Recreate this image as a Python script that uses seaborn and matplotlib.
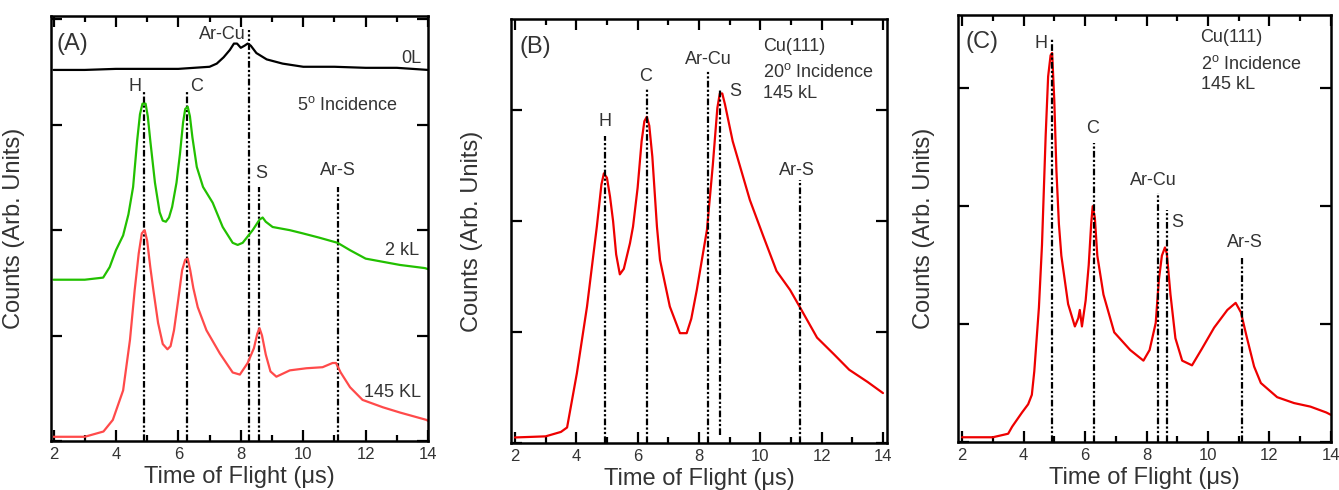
import numpy as np
import pandas as pd
import matplotlib
matplotlib.use("Agg")
import matplotlib.pyplot as plt
import seaborn as sns
from matplotlib.ticker import MultipleLocator

# ---------------- data ----------------
# Panel A : 0L (black), 2 kL (green), 145 kL (light red)
a0_x = [2.0, 3.0, 4.0, 5.0, 6.0, 6.5, 7.0, 7.23, 7.45, 7.65, 7.78, 7.88, 8.0, 8.12, 8.22, 8.32, 8.5, 8.83, 9.34, 10.0, 11.0, 12.0, 13.0, 14.0]
a0_y = [3.52, 3.52, 3.53, 3.53, 3.53, 3.54, 3.55, 3.58, 3.64, 3.71, 3.77, 3.77, 3.73, 3.75, 3.77, 3.75, 3.68, 3.62, 3.58, 3.55, 3.55, 3.54, 3.54, 3.52]

a2_x = [2.0, 3.0, 3.59, 3.8, 4.0, 4.23, 4.4, 4.55, 4.68, 4.77, 4.85, 4.95, 5.02, 5.1, 5.25, 5.4, 5.5, 5.6, 5.7, 5.8, 5.94, 6.05, 6.15, 6.22, 6.3, 6.37,
        6.45, 6.59, 6.79, 7.1, 7.42, 7.74, 7.9, 8.06, 8.38, 8.6, 8.7, 8.8, 9.02, 9.57, 9.98, 10.5, 11.1, 11.5, 12.0, 12.55, 13.1, 13.9, 14.0]
a2_y = [1.53, 1.53, 1.55, 1.65, 1.81, 1.95, 2.15, 2.41, 2.85, 3.1, 3.2, 3.2, 3.08, 2.85, 2.45, 2.17, 2.09, 2.08, 2.12, 2.22, 2.45, 2.72, 3.02, 3.15, 3.17, 3.08,
        2.88, 2.6, 2.41, 2.26, 2.03, 1.88, 1.86, 1.88, 2.0, 2.1, 2.12, 2.08, 2.03, 2.0, 1.97, 1.93, 1.88, 1.81, 1.73, 1.7, 1.67, 1.64, 1.63]

a145_x = [2.0, 3.0, 3.6, 3.9, 4.23, 4.45, 4.6, 4.73, 4.83, 4.92, 5.0, 5.1, 5.2, 5.35, 5.5, 5.65, 5.75, 5.86, 6.0, 6.12, 6.22, 6.3, 6.38, 6.48, 6.62,
          6.9, 7.33, 7.74, 7.97, 8.22, 8.42, 8.53, 8.6, 8.68, 8.8, 8.95, 9.14, 9.57, 10.1, 10.62, 10.94, 11.05, 11.2, 11.5, 11.9, 12.55, 13.1, 13.95, 14.0]
a145_y = [0.04, 0.04, 0.09, 0.2, 0.48, 0.96, 1.43, 1.78, 1.97, 2.0, 1.9, 1.65, 1.43, 1.12, 0.92, 0.87, 0.9, 1.05, 1.35, 1.62, 1.72, 1.73, 1.62, 1.45, 1.27,
          1.05, 0.83, 0.65, 0.63, 0.74, 0.88, 1.02, 1.07, 1.0, 0.82, 0.66, 0.61, 0.67, 0.69, 0.7, 0.74, 0.74, 0.65, 0.51, 0.39, 0.32, 0.27, 0.2, 0.19]

# Panel B : 20 deg incidence, 145 kL
b_x = [2.0, 3.0, 3.5, 3.7, 4.02, 4.35, 4.67, 4.82, 4.9, 5.0, 5.1, 5.2, 5.3, 5.42, 5.55, 5.75, 5.85, 6.0, 6.13, 6.22, 6.3, 6.38, 6.48, 6.63,
       6.73, 7.05, 7.38, 7.6, 7.75, 7.93, 8.26, 8.45, 8.6, 8.68, 8.76, 8.85, 9.1, 9.66, 10.09, 10.53, 10.97, 11.3, 11.85, 12.4, 12.9, 13.5, 14.0]
b_y = [0.05, 0.06, 0.1, 0.14, 0.63, 1.23, 1.95, 2.33, 2.43, 2.39, 2.22, 2.0, 1.7, 1.52, 1.57, 1.8, 1.95, 2.3, 2.72, 2.9, 2.94, 2.86, 2.58, 1.95,
       1.65, 1.23, 0.99, 0.99, 1.12, 1.38, 1.92, 2.5, 3.02, 3.15, 3.15, 3.05, 2.72, 2.19, 1.87, 1.55, 1.38, 1.22, 0.95, 0.8, 0.66, 0.55, 0.45]

# Panel C : 2 deg incidence, 145 kL
c_x = [2.0, 3.0, 3.5, 3.63, 3.95, 4.15, 4.27, 4.35, 4.5, 4.6, 4.72, 4.8, 4.88, 4.93, 5.0, 5.07, 5.15, 5.23, 5.45, 5.67, 5.78, 5.83, 5.9, 6.02, 6.12,
       6.2, 6.25, 6.32, 6.4, 6.6, 6.95, 7.47, 7.9, 8.1, 8.3, 8.4, 8.5, 8.6, 8.66, 8.78, 8.94, 9.16, 9.48, 9.8, 10.2, 10.63, 10.9,
       11.07, 11.27, 11.5, 11.72, 12.25, 12.8, 13.33, 13.85, 14.0]
c_y = [0.04, 0.04, 0.07, 0.13, 0.25, 0.32, 0.4, 0.6, 1.14, 1.67, 2.6, 3.1, 3.28, 3.3, 2.9, 2.3, 1.85, 1.58, 1.17, 0.98, 1.05, 1.12, 0.98, 1.2, 1.5,
       1.85, 2.0, 1.9, 1.58, 1.25, 0.93, 0.78, 0.69, 0.78, 1.01, 1.37, 1.58, 1.65, 1.6, 1.25, 0.88, 0.69, 0.65, 0.79, 0.97, 1.12, 1.18,
       1.1, 0.88, 0.64, 0.5, 0.38, 0.33, 0.3, 0.25, 0.23]

# marker lines: position, top, bottom (data units)
a_lines_x = [4.9, 6.27, 8.27, 8.58, 11.1]
a_lines_top = [3.32, 3.32, 3.9, 2.41, 2.41]
a_lines_bot = [0, 0, 0, 0, 0]
b_lines_x = [4.93, 6.3, 8.3, 8.7, 11.3]
b_lines_top = [2.77, 3.2, 3.35, 3.18, 2.37]
b_lines_bot = [0, 0, 0, 0.07, 0]
c_lines_x = [4.93, 6.28, 8.36, 8.68, 11.1]
c_lines_top = [3.43, 2.54, 2.11, 1.97, 1.56]
c_lines_bot = [0, 0, 0, 0, 0]

# peak labels (text, x, y)
a_labels = [("Ar-Cu", 7.42, 3.86), ("H", 4.61, 3.36), ("C", 6.59, 3.36), ("S", 8.64, 2.54), ("Ar-S", 11.1, 2.57),
            ("0L", 13.47, 3.63), ("2 kL", 13.18, 1.81), ("145 KL", 12.86, 0.46), ("5$^\\mathrm{o}$ Incidence", 11.42, 3.19)]
b_labels = [("H", 4.93, 2.9), ("C", 6.27, 3.3), ("Ar-Cu", 8.29, 3.46), ("S", 9.17, 3.17), ("Ar-S", 11.19, 2.46)]
c_labels = [("H", 4.56, 3.38), ("C", 6.25, 2.66), ("Ar-Cu", 8.23, 2.22), ("S", 9.0, 1.86), ("Ar-S", 11.2, 1.69)]
b_info = ["Cu(111)", "20$^\\mathrm{o}$ Incidence", "145 kL"]
b_info_y = [3.57, 3.34, 3.15]
c_info = ["Cu(111)", "2$^\\mathrm{o}$ Incidence", "145 kL"]
c_info_y = [3.43, 3.21, 3.03]

# ---------------- style ----------------
sns.set_theme(style="ticks")
plt.rcParams["font.family"] = ["Liberation Sans", "DejaVu Sans"]
plt.rcParams["mathtext.fontset"] = "custom"
plt.rcParams["mathtext.rm"] = "Liberation Sans"
plt.rcParams["mathtext.it"] = "Liberation Sans:italic"

TXT = "#333333"
GREEN = "#22c000"
RED = "#ee0000"
LRED = "#ff4a4a"
DASH = (0, (3, 1, 1, 1, 1, 1))

fig = plt.figure(figsize=(13.39, 4.9), dpi=100)
axA = fig.add_axes([0.0381, 0.100, 0.2816, 0.867])
axB = fig.add_axes([0.3816, 0.0959, 0.2808, 0.865])
axC = fig.add_axes([0.7155, 0.098, 0.2785, 0.871])


def curve(ax, xs, ys, color):
    df = pd.DataFrame({"t": xs, "c": ys})
    sns.lineplot(data=df, x="t", y="c", ax=ax, color=color, lw=1.6, estimator=None, sort=False)


def style(ax, xlim, ylim, ylab_x, panel, px, py):
    ax.set_xlim(*xlim)
    ax.set_ylim(*ylim)
    ax.xaxis.set_major_locator(MultipleLocator(2))
    ax.xaxis.set_minor_locator(MultipleLocator(1))
    ax.yaxis.set_major_locator(MultipleLocator(1))
    ax.set_yticklabels([])
    ax.tick_params(which="both", direction="in", top=True, right=True, width=1.6, color="black")
    ax.tick_params(which="major", length=8, labelsize=12, labelcolor=TXT, pad=4)
    ax.tick_params(which="minor", length=4.5)
    ax.tick_params(axis="y", which="minor", left=False, right=False)
    for s in ax.spines.values():
        s.set_linewidth(1.8)
        s.set_color("black")
    ax.set_xlabel("Time of Flight (\u03bcs)", fontsize=17, color=TXT)
    ax.set_ylabel("Counts (Arb. Units)", fontsize=17, color=TXT)
    ax.xaxis.set_label_coords(0.5, -0.058)
    ax.yaxis.set_label_coords(ylab_x, 0.5)
    ax.text(px, py, panel, fontsize=17, color=TXT, ha="left", va="center")


def markers(ax, xs, tops, bots):
    for x, t, b in zip(xs, tops, bots):
        ax.plot([x, x], [b, t], color="black", lw=1.6, ls=DASH)


def labels(ax, labs):
    for t, x, y in labs:
        ax.text(x, y, t, fontsize=13, color=TXT, ha="center", va="center")


# Panel A
markers(axA, a_lines_x, a_lines_top, a_lines_bot)
curve(axA, a0_x, a0_y, "black")
curve(axA, a2_x, a2_y, GREEN)
curve(axA, a145_x, a145_y, LRED)
style(axA, (1.92, 14.0), (0, 4.03), -0.069, "(A)", 2.11, 3.77)
labels(axA, a_labels)

# Panel B
curve(axB, b_x, b_y, RED)
markers(axB, b_lines_x, b_lines_top, b_lines_bot)
style(axB, (1.87, 14.13), (0, 3.82), -0.074, "(B)", 2.16, 3.57)
labels(axB, b_labels)
for t, y in zip(b_info, b_info_y):
    axB.text(10.09, y, t, fontsize=13, color=TXT, ha="left", va="center")

# Panel C
curve(axC, c_x, c_y, RED)
markers(axC, c_lines_x, c_lines_top, c_lines_bot)
style(axC, (1.87, 14.0), (0, 3.62), -0.061, "(C)", 2.1, 3.39)
labels(axC, c_labels)
for t, y in zip(c_info, c_info_y):
    axC.text(9.76, y, t, fontsize=13, color=TXT, ha="left", va="center")

fig.savefig("out.png", dpi=100)
